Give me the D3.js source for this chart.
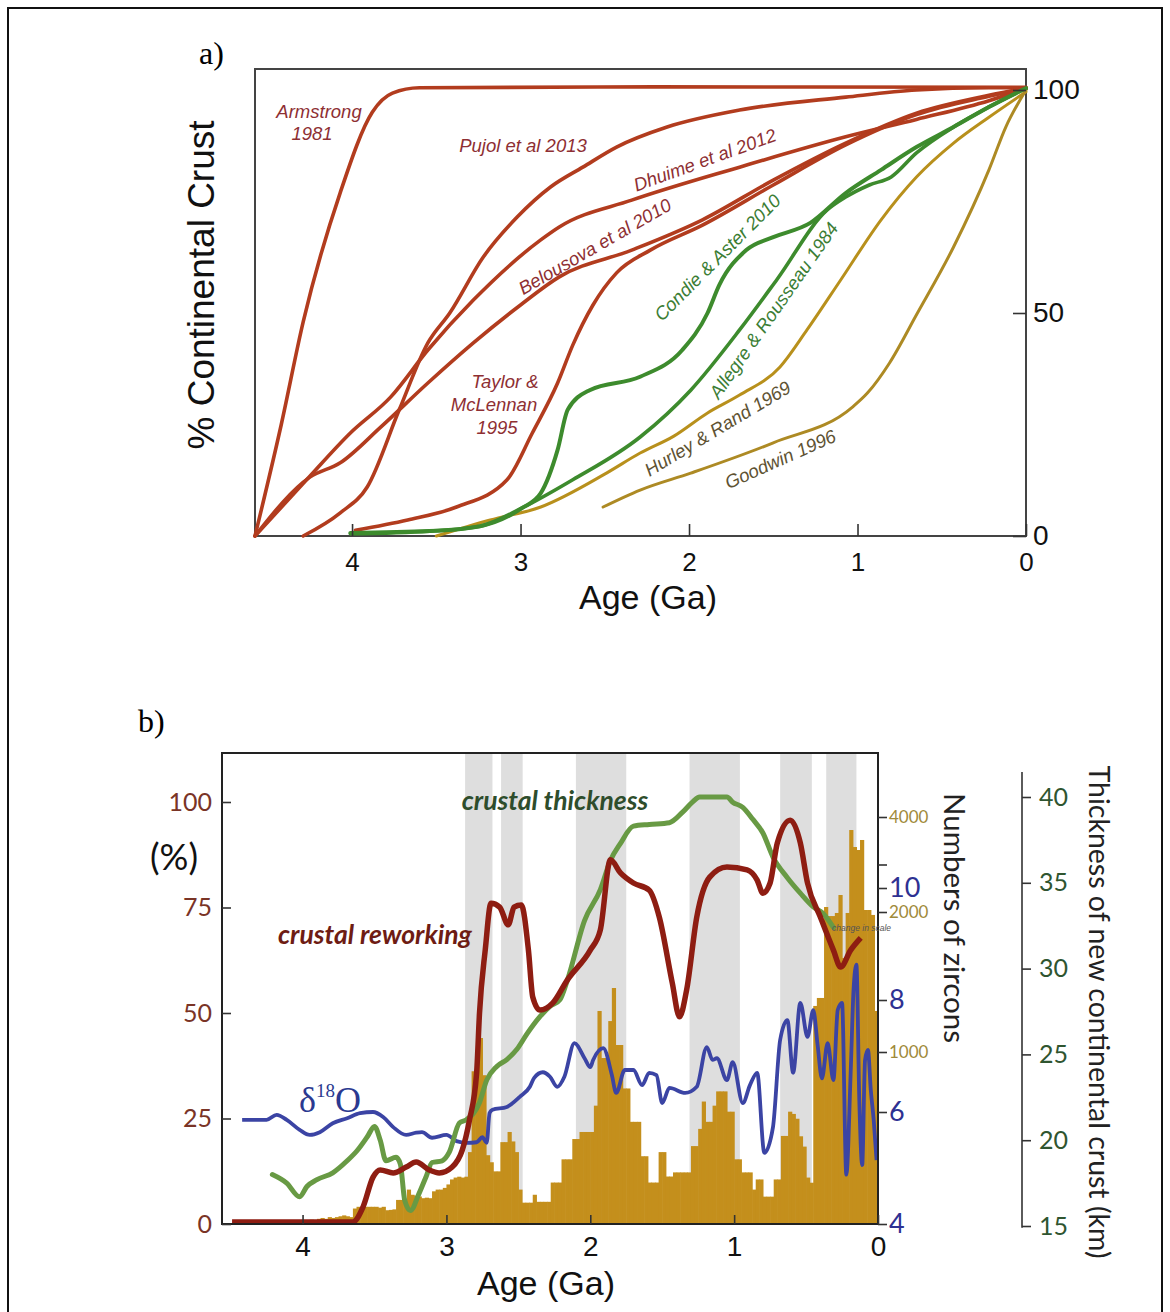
<!DOCTYPE html>
<html>
<head>
<meta charset="utf-8">
<script src="https://cdn.jsdelivr.net/npm/d3@7"></script>
<style>
  body { margin: 0; background: #fff; }
  svg { display: block; }
</style>
</head>
<body>
<div id="chart"></div>
<script>
'use strict'
// ---------- panel a: growth curves, [age Ga, % continental crust] ----------
const armstrong1981 = [[4.576,0],[4.42,25],[4.29,48],[4.07,77],[3.88,95],[3.76,99.3],[3.6,100.5],[2.2,100.7],[0,100.6]]
const pujol2013 = [[4.29,0],[4.07,5.2],[3.91,11],[3.72,28.3],[3.55,43.3],[3.42,50],[3.22,62.6],[3.02,71.5],[2.82,78.3],[2.63,82.7],[2.43,87.2],[2.13,91.7],[1.70,95.5],[1.07,98.4],[0.65,100],[0.22,100.5],[0,100.5]]
const dhuime2012 = [[4.576,0],[4.27,12.6],[4.01,23.1],[3.77,31.2],[3.55,41.7],[3.28,52.9],[2.88,66.4],[2.77,69.3],[2.34,75.3],[1.70,82.7],[1.07,89.5],[0.65,93.4],[0.22,97.6],[0,100.4]]
const belousova2010 = [[4.576,0],[4.25,13.2],[4.07,16.4],[3.83,24.4],[3.55,34.3],[3.28,43.3],[3.00,51.8],[2.77,58.1],[2.34,64.1],[1.92,70.9],[1.50,79.8],[1.07,88.1],[0.65,94.8],[0.22,98.8],[0,100.4]]
const taylor1995 = [[3.98,1.3],[3.67,3.6],[3.38,6.5],[3.08,12.6],[2.93,23.1],[2.78,34.3],[2.69,42.8],[2.57,51.8],[2.43,59],[2.23,64.1],[1.92,69.7],[1.50,78.7],[1.07,87.7],[0.65,94.5],[0.22,98.6],[0,100.4]]
const condie2010 = [[4.01,0.7],[3.54,1.1],[3.24,2.2],[2.99,6.3],[2.88,9.6],[2.78,19.3],[2.72,28.3],[2.59,32.7],[2.29,35.7],[2.04,41.7],[1.89,50],[1.82,56.3],[1.66,64.1],[1.50,67],[1.28,70.2],[1.07,76.9],[0.86,82.1],[0.65,87.2],[0.43,91.7],[0.22,96.2],[0,100.4]]
const allegre1984 = [[4.01,0.5],[3.54,1.1],[3.24,2.2],[2.99,6.3],[2.69,12.6],[2.29,22.2],[1.99,32.7],[1.70,46.2],[1.48,57.4],[1.18,73.1],[1.07,76],[0.93,78.7],[0.80,80.5],[0.65,85.9],[0.43,91.7],[0.22,96.2],[0,100.4]]
const hurley1969 = [[3.50,0],[3.18,3.6],[2.88,6.5],[2.49,14.1],[2.29,18.6],[2.09,22.4],[1.89,27.6],[1.70,31.6],[1.46,37.9],[1.30,46.2],[1.10,57.4],[0.86,70.9],[0.65,80.5],[0.43,88.1],[0.22,93.9],[0,99.6]]
const goodwin1996 = [[2.51,6.5],[2.29,10.3],[1.99,14.1],[1.50,20.9],[1.03,28.9],[0.94,32.1],[0.81,38.8],[0.65,49.6],[0.43,64.8],[0.22,82.1],[0.12,91.7],[0,100]]
const ageTicksA = [4,3,2,1,0]
const pctTicksA = [0,50,100]

// ---------- panel b ----------
const ageTicksB = [4,3,2,1,0]
const pctTicksB = [0,25,50,75,100]
const zirconTicks = [1000,2000,3000,4000]
const zirconLabels = [1000,2000,4000]
const d18OTicks = [4,6,8,10]
const kmTicks = [15,20,25,30,35,40]
// shaded age intervals [older, younger] Ga
const grayBands = [[2.87,2.68],[2.62,2.47],[2.10,1.75],[1.31,0.96],[0.68,0.46],[0.36,0.15]]
// zircon histogram, 0.025 Ga bins from 4.5 Ga to present
const zirconBinStart = 4.5
const zirconBinWidth = 0.025
const zirconCounts = [
  0,5,5,5, 5,10,5,10, 10,5,10,10, 10,15,10,10, 15,10,15,20,
  15,20,25,20, 30,35,30,40, 35,40,45,50, 45,40,90,100, 100,100,100,100,
  100,95,100,80, 82,85,140,140, 141,200,170,165, 160,150,153,150, 190,200,200,210,
  230,259,270,275, 270,275,418,888, 950,1100,865,400, 359,306,306,476, 476,535,480,418,
  200,124,124,124, 170,129,129,129, 129,241,241,241, 376,376,376,494, 494,535,535,535,
  535,688,1293,965, 965,1221,1457,1050, 1050,788,788,594, 594,594,394,394, 241,241,241,418,
  418,276,276,300, 300,300,300,300, 453,453,553,712, 594,594,688,771, 771,771,653,653,
  376,376,300,300, 300,200,259,259, 159,159,159,259, 259,512,512,653, 640,612,510,450,
  270,240,1329,1386, 1386,2105,1971,1971, 1993,2358,1671,1993, 3726,3368,3305,3516, 2042,2042,1979,1293
]
// crustal reworking [Ga, %]
const reworking = [[4.49,0.5],[3.65,0.5],[3.58,4],[3.51,11.1],[3.46,12.8],[3.37,12.1],[3.28,13.5],[3.21,14.7],[3.12,12.8],[3.05,12.1],[2.96,13.5],[2.89,17.5],[2.84,24.6],[2.79,35.8],[2.77,50],[2.73,65],[2.69,76],[2.63,75.1],[2.57,70.9],[2.53,75.1],[2.48,75.6],[2.43,64.9],[2.40,53.8],[2.35,50.7],[2.26,52.4],[2.16,57.8],[2.00,64.9],[1.93,69.7],[1.86,86.3],[1.79,83.2],[1.70,80.8],[1.59,79.1],[1.52,72.7],[1.43,57.1],[1.38,49.1],[1.33,55.5],[1.26,72.7],[1.17,82.2],[1.05,84.6],[0.91,83.9],[0.84,81.5],[0.80,78.4],[0.75,80.8],[0.70,90.3],[0.61,95.7],[0.54,90.3],[0.49,80.8],[0.40,72.7],[0.31,64.9],[0.26,60.9],[0.19,64.9],[0.12,67.8]]
// crustal thickness [Ga, km]
const thickness = [[4.21,18.0],[4.11,17.5],[4.02,16.7],[3.97,17.3],[3.90,17.7],[3.79,18.1],[3.69,18.8],[3.62,19.4],[3.55,20.2],[3.50,20.8],[3.46,20.0],[3.42,18.8],[3.35,19.0],[3.32,18.6],[3.29,16.5],[3.25,15.9],[3.19,16.9],[3.14,17.9],[3.10,18.7],[3.03,18.8],[2.98,19.3],[2.91,21.0],[2.86,21.2],[2.77,22.2],[2.72,23.5],[2.65,24.3],[2.58,24.7],[2.51,25.3],[2.44,26.2],[2.35,27.2],[2.28,27.8],[2.21,28.2],[2.16,29.3],[2.04,32.8],[1.93,34.6],[1.86,36.3],[1.79,37.3],[1.70,38.3],[1.59,38.4],[1.45,38.5],[1.36,39.1],[1.29,39.7],[1.24,40.0],[1.05,40.0],[1.01,39.7],[0.94,39.4],[0.87,38.7],[0.80,37.9],[0.73,36.5],[0.63,35.3],[0.54,34.4],[0.45,33.6],[0.38,33.2],[0.31,32.4]]
// delta 18O [Ga, permil]
const d18O = [[4.42,5.86],[4.25,5.86],[4.18,5.95],[4.11,5.86],[4.02,5.68],[3.95,5.59],[3.88,5.64],[3.79,5.80],[3.69,5.89],[3.60,5.98],[3.51,6.00],[3.44,5.91],[3.37,5.73],[3.28,5.59],[3.21,5.63],[3.17,5.64],[3.10,5.54],[3.00,5.59],[2.93,5.48],[2.86,5.45],[2.79,5.46],[2.75,5.55],[2.72,5.45],[2.70,5.98],[2.68,6.04],[2.58,6.09],[2.49,6.27],[2.42,6.45],[2.39,6.61],[2.33,6.71],[2.28,6.63],[2.23,6.45],[2.18,6.63],[2.11,7.23],[2.04,6.96],[2.00,6.80],[1.98,6.93],[1.91,7.14],[1.85,6.66],[1.82,6.34],[1.76,6.75],[1.70,6.75],[1.64,6.48],[1.59,6.70],[1.54,6.66],[1.50,6.16],[1.45,6.43],[1.34,6.34],[1.26,6.45],[1.19,7.16],[1.15,6.93],[1.12,6.96],[1.05,6.57],[1.01,6.89],[0.94,6.16],[0.89,6.48],[0.84,6.70],[0.79,5.27],[0.73,5.73],[0.68,7.29],[0.63,7.64],[0.59,6.70],[0.54,7.95],[0.49,7.34],[0.45,7.82],[0.42,7.2],[0.39,6.6],[0.35,7.23],[0.31,6.57],[0.28,7.82],[0.25,7.95],[0.22,4.88],[0.19,6.70],[0.17,8.18],[0.15,8.63],[0.13,6.21],[0.11,5.05],[0.09,6.93],[0.07,7.11],[0.05,6.39],[0.03,5.86],[0.01,5.14]]

// ---------- drawing ----------
const SANS = '"Liberation Sans", Arial, sans-serif'
const MYR = 'Lato, "Open Sans", sans-serif'
const SERIF = '"Liberation Serif", "Times New Roman", serif'

const svg = d3.select("#chart").append("svg")
  .attr("width", 1170)
  .attr("height", 1312)
svg.append("rect").attr("width", 1170).attr("height", 1312).attr("fill", "#fff")
svg.append("rect")
  .attr("x", 8).attr("y", 8).attr("width", 1154).attr("height", 1330)
  .attr("fill", "none").attr("stroke", "#111").attr("stroke-width", 2)

function styleAxis(g, size, color, family){
  g.select(".domain").remove()
  g.selectAll(".tick line").attr("stroke", "#333").attr("stroke-width", 1.6)
  g.selectAll(".tick text")
    .attr("fill", color)
    .style("font-size", size + "px")
    .style("font-family", family)
}

// ===== panel a =====
function drawPanelA(){
  const box = {left:255, top:69, right:1026, bottom:536}
  const x = d3.scaleLinear().domain([4.576, 0]).range([box.left, box.right])
  const y = d3.scaleLinear().domain([0, 100]).range([box.bottom, 90])
  const line = d3.line().x(d => x(d[0])).y(d => y(d[1])).curve(d3.curveMonotoneX)
  const g = svg.append("g")

  svg.append("text").attr("x", 199).attr("y", 64)
    .style("font-family", SERIF).style("font-size", "32px").text("a)")

  g.append("rect")
    .attr("x", box.left).attr("y", box.top)
    .attr("width", box.right - box.left).attr("height", box.bottom - box.top)
    .attr("fill", "none").attr("stroke", "#444").attr("stroke-width", 2)

  const red = "#b23c1e", green = "#3d8b2d", gold = "#b8901c", gold2 = "#ad8a24"
  const curves = [
    {d: armstrong1981, c: red, w: 3.6},
    {d: pujol2013, c: red, w: 3.6},
    {d: dhuime2012, c: red, w: 3.6},
    {d: belousova2010, c: red, w: 3.6},
    {d: taylor1995, c: red, w: 3.6},
    {d: hurley1969, c: gold, w: 3},
    {d: goodwin1996, c: gold2, w: 3},
    {d: allegre1984, c: green, w: 3.6},
    {d: condie2010, c: green, w: 4}
  ]
  g.selectAll("path.curve")
    .data(curves)
    .enter()
      .append("path")
      .attr("class", "curve")
      .attr("d", s => line(s.d))
      .attr("fill", "none")
      .attr("stroke", s => s.c)
      .attr("stroke-width", s => s.w)
      .attr("stroke-linecap", "round")

  g.append("g")
    .attr("transform", `translate(0,${box.bottom})`)
    .call(d3.axisBottom(x).tickValues(ageTicksA).tickSize(-12).tickPadding(17).tickFormat(d3.format("d")))
    .call(a => styleAxis(a, 26, "#111", SANS))
  g.append("g")
    .attr("transform", `translate(${box.right},0)`)
    .call(d3.axisRight(y).tickValues(pctTicksA).tickSize(-13).tickPadding(7).tickFormat(d3.format("d")))
    .call(a => styleAxis(a, 28, "#111", SANS))

  g.append("text")
    .attr("transform", "translate(201,285) rotate(-90)")
    .attr("text-anchor", "middle").attr("dominant-baseline", "central")
    .style("font-family", SANS).style("font-size", "37px").attr("fill", "#111")
    .text("% Continental Crust")
  g.append("text")
    .attr("x", 648).attr("y", 609).attr("text-anchor", "middle")
    .style("font-family", SANS).style("font-size", "34px").attr("fill", "#111")
    .text("Age (Ga)")

  const labRed = "#8e2f33", labGreen = "#3b7d34", labGold = "#5e5232"
  const labels = [
    {t: "Armstrong", x: 319, y: 118, r: 0, c: labRed},
    {t: "1981", x: 312, y: 140, r: 0, c: labRed},
    {t: "Pujol et al 2013", x: 523, y: 152, r: 0, c: labRed},
    {t: "Dhuime et al 2012", x: 707, y: 166, r: -20, c: labRed},
    {t: "Belousova et al 2010", x: 598, y: 252, r: -30, c: labRed},
    {t: "Taylor &", x: 505, y: 388, r: 0, c: labRed},
    {t: "McLennan", x: 494, y: 411, r: 0, c: labRed},
    {t: "1995", x: 497, y: 434, r: 0, c: labRed},
    {t: "Condie & Aster 2010", x: 722, y: 262, r: -45, c: labGreen},
    {t: "Allegre & Rousseau 1984", x: 779, y: 314, r: -55, c: labGreen},
    {t: "Hurley & Rand 1969", x: 721, y: 434, r: -31, c: labGold},
    {t: "Goodwin 1996", x: 783, y: 465, r: -24, c: labGold}
  ]
  g.selectAll("text.lab")
    .data(labels)
    .enter()
      .append("text")
      .attr("class", "lab")
      .attr("transform", l => `translate(${l.x},${l.y}) rotate(${l.r})`)
      .attr("text-anchor", "middle")
      .style("font-family", SANS).style("font-style", "italic").style("font-size", "18.5px")
      .attr("fill", l => l.c)
      .text(l => l.t)
}

// ===== panel b =====
function drawPanelB(){
  const box = {left:222, top:753, right:878, bottom:1224}
  const x = d3.scaleLinear().domain([4.56, 0]).range([box.left, box.right])
  const yPct = d3.scaleLinear().domain([0, 100]).range([box.bottom, 802])
  const yZir = d3.scaleLinear().domain([0, 1000, 2000, 4000]).range([box.bottom, 1052, 912, 817])
  const yO = d3.scaleLinear().domain([4, 10]).range([box.bottom, 888])
  const yKm = d3.scaleLinear().domain([15, 40]).range([1226, 797])
  const g = svg.append("g")

  svg.append("text").attr("x", 138).attr("y", 732)
    .style("font-family", SERIF).style("font-size", "32px").text("b)")

  g.selectAll("rect.band")
    .data(grayBands)
    .enter()
      .append("rect")
      .attr("class", "band")
      .attr("x", d => x(d[0]))
      .attr("width", d => x(d[1]) - x(d[0]))
      .attr("y", box.top)
      .attr("height", box.bottom - box.top)
      .attr("fill", "#dedede")

  const bins = zirconCounts.map((n, i) => ({
    old: zirconBinStart - i * zirconBinWidth,
    young: zirconBinStart - (i + 1) * zirconBinWidth,
    n: n
  }))
  g.selectAll("rect.bin")
    .data(bins)
    .enter()
      .append("rect")
      .attr("class", "bin")
      .attr("x", b => x(b.old))
      .attr("width", b => x(b.young) - x(b.old) + 0.6)
      .attr("y", b => yZir(b.n))
      .attr("height", b => box.bottom - yZir(b.n))
      .attr("fill", "#c48f1c")

  const lineO = d3.line().x(d => x(d[0])).y(d => yO(d[1])).curve(d3.curveMonotoneX)
  const lineKm = d3.line().x(d => x(d[0])).y(d => yKm(d[1])).curve(d3.curveMonotoneX)
  const linePct = d3.line().x(d => x(d[0])).y(d => yPct(d[1])).curve(d3.curveMonotoneX)

  g.append("path").attr("d", lineO(d18O))
    .attr("fill", "none").attr("stroke", "#3b44a4").attr("stroke-width", 3.8)
    .attr("stroke-linejoin", "round")
  g.append("path").attr("d", lineKm(thickness))
    .attr("fill", "none").attr("stroke", "#689a44").attr("stroke-width", 5)
    .attr("stroke-linejoin", "round").attr("stroke-linecap", "round")
  g.append("path").attr("d", linePct(reworking))
    .attr("fill", "none").attr("stroke", "#8e1d12").attr("stroke-width", 5.5)
    .attr("stroke-linejoin", "round")

  g.append("rect")
    .attr("x", box.left).attr("y", box.top)
    .attr("width", box.right - box.left).attr("height", box.bottom - box.top)
    .attr("fill", "none").attr("stroke", "#222").attr("stroke-width", 2)

  // axes
  g.append("g")
    .attr("transform", `translate(${box.left},0)`)
    .call(d3.axisLeft(yPct).tickValues(pctTicksB).tickSize(-9).tickPadding(10))
    .call(a => styleAxis(a, 25, "#7a3426", MYR))
  g.append("g")
    .attr("transform", `translate(0,${box.bottom})`)
    .call(d3.axisBottom(x).tickValues(ageTicksB).tickSize(-9).tickPadding(12).tickFormat(d3.format("d")))
    .call(a => styleAxis(a, 28, "#111", SANS))
  g.append("g")
    .attr("transform", `translate(${box.right},0)`)
    .call(d3.axisRight(yZir).tickValues(zirconTicks).tickSize(9).tickPadding(2)
      .tickFormat(v => zirconLabels.includes(v) ? v : ""))
    .call(a => styleAxis(a, 17, "#a08a3a", MYR))
  g.append("g")
    .attr("transform", `translate(${box.right},0)`)
    .call(d3.axisRight(yO).tickValues(d18OTicks).tickSize(9).tickPadding(2).tickFormat(d3.format("d")))
    .call(a => styleAxis(a, 27, "#2e3192", MYR))
  g.append("line")
    .attr("x1", 1022).attr("x2", 1022)
    .attr("y1", yKm(41.45)).attr("y2", yKm(14.9))
    .attr("stroke", "#333").attr("stroke-width", 1.6)
  g.append("g")
    .attr("transform", "translate(1022,0)")
    .call(d3.axisRight(yKm).tickValues(kmTicks).tickSize(9).tickPadding(8))
    .call(a => styleAxis(a, 25, "#2f5530", MYR))

  // titles and labels
  g.append("text")
    .attr("x", 174).attr("y", 856).attr("text-anchor", "middle").attr("dominant-baseline", "central")
    .style("font-family", MYR).style("font-size", "36px").attr("fill", "#111")
    .text("(%)")
  g.append("text")
    .attr("x", 546).attr("y", 1295).attr("text-anchor", "middle")
    .style("font-family", SANS).style("font-size", "34px").attr("fill", "#111")
    .text("Age (Ga)")
  g.append("text")
    .attr("transform", "translate(955,918) rotate(90)")
    .attr("text-anchor", "middle").attr("dominant-baseline", "central")
    .style("font-family", MYR).style("font-size", "29.5px").attr("fill", "#222")
    .text("Numbers of zircons")
  g.append("text")
    .attr("transform", "translate(1100,1012) rotate(90)")
    .attr("text-anchor", "middle").attr("dominant-baseline", "central")
    .style("font-family", MYR).style("font-size", "28.5px").attr("fill", "#222")
    .text("Thickness of new continental crust (km)")
  g.append("text")
    .attr("x", 555).attr("y", 810).attr("text-anchor", "middle")
    .style("font-family", MYR).style("font-weight", "bold").style("font-style", "italic")
    .style("font-size", "26.5px").attr("fill", "#2e4d2c")
    .text("crustal thickness")
  g.append("text")
    .attr("x", 375).attr("y", 944).attr("text-anchor", "middle")
    .style("font-family", MYR).style("font-weight", "bold").style("font-style", "italic")
    .style("font-size", "26.5px").attr("fill", "#6e1c14")
    .text("crustal reworking")
  const dt = g.append("text")
    .attr("x", 299).attr("y", 1112)
    .style("font-family", SERIF).style("font-size", "36px").attr("fill", "#2b3990")
  dt.append("tspan").text("δ")
  dt.append("tspan").attr("dy", -15).style("font-size", "19px").text("18")
  dt.append("tspan").attr("dy", 15).text("O")
  g.append("text")
    .attr("x", 832).attr("y", 931)
    .style("font-family", SANS).style("font-style", "italic").style("font-size", "8.5px")
    .attr("fill", "#555")
    .text("change in scale")
}

drawPanelA()
drawPanelB()
</script>
</body>
</html>
